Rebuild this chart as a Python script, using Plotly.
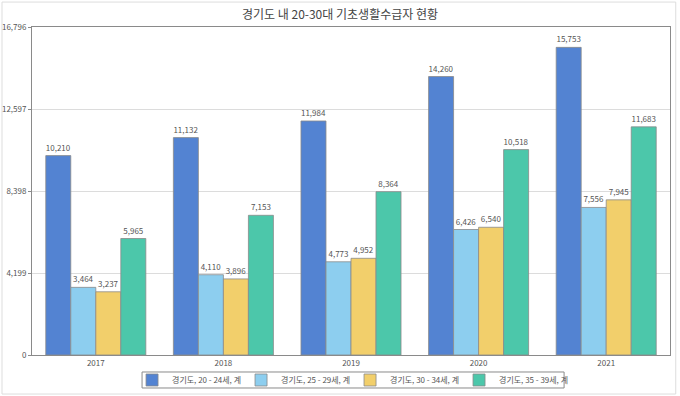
import plotly.graph_objects as go

years = ["2017", "2018", "2019", "2020", "2021"]
series_names = ["경기도, 20 - 24세, 계", "경기도, 25 - 29세, 계", "경기도, 30 - 34세, 계", "경기도, 35 - 39세, 계"]
v20_24 = [10210, 11132, 11984, 14260, 15753]
v25_29 = [3464, 4110, 4773, 6426, 7556]
v30_34 = [3237, 3896, 4952, 6540, 7945]
v35_39 = [5965, 7153, 8364, 10518, 11683]
y_ticks = [0, 4199, 8398, 12597, 16796]
title_text = "경기도 내 20-30대 기초생활수급자 현황"

colors = ["#5383D2", "#8DCEEF", "#F2CF6B", "#4CC7AA"]
font_family = "Noto Sans CJK KR, DejaVu Sans, sans-serif"

fig = go.Figure()
for name, vals, col in zip(series_names, [v20_24, v25_29, v30_34, v35_39], colors):
    fig.add_trace(go.Bar(
        x=years, y=vals, name=name,
        marker=dict(color=col, line=dict(color="#8a8a8a", width=0.8)),
        texttemplate="%{y:,}", textposition="outside",
        textfont=dict(size=8, color="#555555", family=font_family),
        cliponaxis=False,
    ))

fig.update_layout(
    width=680, height=396,
    margin=dict(l=32, r=10, t=27, b=41, autoexpand=False),
    paper_bgcolor="white", plot_bgcolor="white",
    barmode="group", bargap=0.216, bargroupgap=0,
    font=dict(family=font_family, size=8, color="#555555"),
    title=dict(text=title_text, x=0.5, xanchor="center", y=0.962, yanchor="middle",
               font=dict(size=12, color="#444444", family=font_family)),
    showlegend=True,
    legend=dict(orientation="h", x=0.4985, xanchor="center", y=-0.0762, yanchor="middle",
                borderwidth=0, bgcolor="rgba(0,0,0,0)",
                font=dict(size=8, color="#555555", family=font_family),
                itemwidth=30, entrywidth=64, traceorder="normal", tracegroupgap=0),
    shapes=[
        dict(type="rect", xref="paper", yref="paper",
             x0=-0.047, x1=1.009, y0=-0.119, y1=1.076,
             line=dict(color="#dddddd", width=1), layer="below"),
        dict(type="rect", xref="paper", yref="paper",
             x0=0.1725, x1=0.834, y0=-0.1006, y1=-0.0518,
             line=dict(color="#8a8a8a", width=1), fillcolor="rgba(0,0,0,0)", layer="above"),
    ],
)
fig.update_xaxes(showline=True, linecolor="#8a8a8a", mirror=True, ticks="",
                 tickfont=dict(size=8, color="#555555"), showgrid=False, automargin=False)
fig.update_yaxes(range=[0, 16796], tickvals=y_ticks, tickformat=",",
                 showline=True, linecolor="#8a8a8a", mirror=True,
                 showgrid=True, gridcolor="#dcdcdc", gridwidth=1,
                 ticks="outside", ticklen=3, tickcolor="#8a8a8a",
                 tickfont=dict(size=8, color="#555555"), zeroline=False, automargin=False)

fig.write_html("out.html", config={"displayModeBar": False},
               post_script="document.body.style.margin='0';")
